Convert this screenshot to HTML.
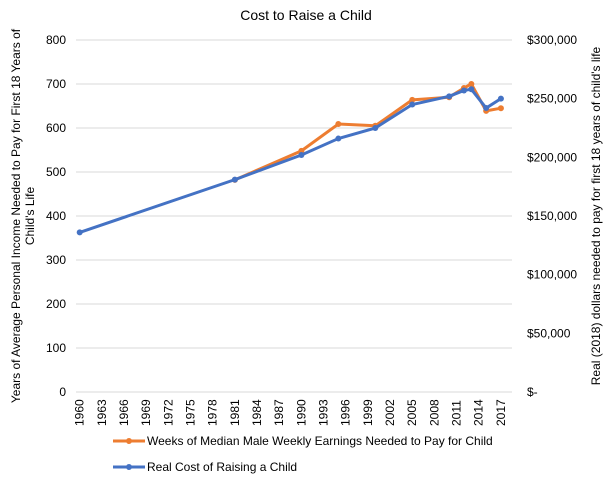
<!DOCTYPE html>
<html><head><meta charset="utf-8"><style>
body{margin:0;background:#fff;}
svg text{font-family:"Liberation Sans",sans-serif;fill:#000;}
</style></head><body>
<svg id="chart" width="613" height="481">
<text x="306" y="20" font-size="14" text-anchor="middle">Cost to Raise a Child</text>
<g id="grid"></g><g id="ticks"></g><g id="series"></g>
<text transform="translate(20,216) rotate(-90)" font-size="12" text-anchor="middle">Years of Average Personal Income Needed to Pay for First 18 Years of</text>
<text transform="translate(34,216) rotate(-90)" font-size="12" text-anchor="middle">Child's Life</text>
<text transform="translate(600,216) rotate(-90)" font-size="12" text-anchor="middle">Real (2018) dollars needed to pay for first 18 years of child's life</text>
<g>
<line x1="113" y1="441" x2="145" y2="441" stroke="#ED7D31" stroke-width="3"/><circle cx="129" cy="441" r="3" fill="#ED7D31"/>
<text x="147" y="445" font-size="12">Weeks of Median Male Weekly Earnings Needed to Pay for Child</text>
<line x1="113" y1="467" x2="145" y2="467" stroke="#4472C4" stroke-width="3"/><circle cx="129" cy="467" r="3" fill="#4472C4"/>
<text x="147" y="471" font-size="12">Real Cost of Raising a Child</text>
</g>
</svg>
<script>
const years=[];for(let y=1960;y<=2018;y++)years.push(y);
const leftTicks=[0,100,200,300,400,500,600,700,800];
const rightTicks=["$-","$50,000","$100,000","$150,000","$200,000","$250,000","$300,000"];
const blueYears=[1960,1981,1990,1995,2000,2005,2010,2012,2013,2015,2017];
const blueVals=[136000,181000,202000,216000,225000,245000,252000,257000,258000,242000,250000];
const orangeYears=[1981,1990,1995,2000,2005,2010,2012,2013,2015,2017];
const orangeVals=[482,548,609,605,664,670,691,700,639,645];
const NS="http://www.w3.org/2000/svg";
const X0=76,X1=512,YT=40,YB=392;
const step=(X1-X0)/years.length;
const xs=y=>X0+(years.indexOf(y)+0.5)*step;
const yl=v=>YB-v/800*(YB-YT);
const yr=v=>YB-v/300000*(YB-YT);
function mk(t,a,p){const e=document.createElementNS(NS,t);for(const k in a)e.setAttribute(k,a[k]);p.appendChild(e);return e;}
const grid=document.getElementById('grid'),ticks=document.getElementById('ticks'),ser=document.getElementById('series');
leftTicks.forEach(v=>{
 const l=mk('line',{x1:X0,x2:X1,y1:yl(v),y2:yl(v),stroke:'#d9d9d9','stroke-width':1},grid);
 
 
 const t=mk('text',{x:66,y:yl(v)+4,'font-size':12,'text-anchor':'end'},ticks);t.textContent=v;
 
 
});
rightTicks.forEach((s,i)=>{
 const t=mk('text',{x:527,y:yr(i*50000)+4,'font-size':12},ticks);t.textContent=s;
 
 
});
years.forEach((y,i)=>{if(i%3)return;
 const x=xs(y);const t=mk('text',{transform:`translate(${x+4},${YB+34}) rotate(-90)`,'font-size':12},ticks);t.textContent=y;
 
 
});
function draw(yrs,vals,f,c,name){
 const pts=yrs.map((y,i)=>xs(y)+','+f(vals[i])).join(' ');
 const p=mk('polyline',{points:pts,fill:'none',stroke:c,'stroke-width':3,'stroke-linejoin':'round'},ser);
 
 
 yrs.forEach((y,i)=>{const c2=mk('circle',{cx:xs(y),cy:f(vals[i]),r:3,fill:c},ser);
 
 });
}
draw(orangeYears,orangeVals,yl,'#ED7D31','weeks-series');
draw(blueYears,blueVals,yr,'#4472C4','real-cost-series');
</script>
</body></html>
